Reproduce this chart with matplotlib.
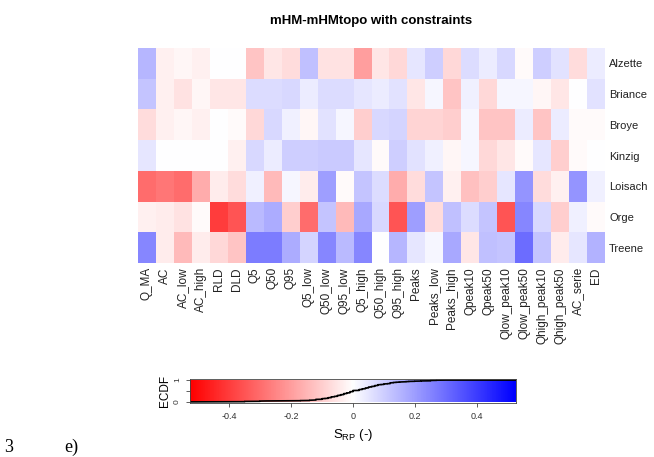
import numpy as np
import matplotlib
matplotlib.use("Agg")
import matplotlib.pyplot as plt
from matplotlib.colors import LinearSegmentedColormap

plt.rcParams['font.family'] = ['Liberation Sans', 'DejaVu Sans']

catchments = ['Alzette', 'Briance', 'Broye', 'Kinzig', 'Loisach', 'Orge', 'Treene']
signatures = ['Q_MA', 'AC', 'AC_low', 'AC_high', 'RLD', 'DLD', 'Q5', 'Q50', 'Q95',
              'Q5_low', 'Q50_low', 'Q95_low', 'Q5_high', 'Q50_high', 'Q95_high',
              'Peaks', 'Peaks_low', 'Peaks_high', 'Qpeak10', 'Qpeak50',
              'Qlow_peak10', 'Qlow_peak50', 'Qhigh_peak10', 'Qhigh_peak50',
              'AC_serie', 'ED']

# S_RP values (rows = catchments, cols = signatures)
alzette = [0.15, -0.03, -0.02, -0.03, 0.00, 0.00, -0.12, -0.05, -0.07, 0.13, -0.06, -0.06, -0.20,
           -0.05, -0.08, 0.05, 0.10, -0.08, 0.07, 0.04, 0.08, -0.01, 0.10, 0.06, -0.07, 0.04]
briance = [0.12, -0.03, -0.06, -0.02, -0.05, -0.05, 0.07, 0.07, 0.08, 0.04, 0.07, 0.07, 0.05,
           0.04, 0.06, -0.05, 0.02, -0.12, 0.03, -0.08, 0.02, 0.02, -0.02, -0.05, 0.00, 0.06]
broye = [-0.07, -0.03, -0.02, -0.03, 0.00, -0.01, -0.08, 0.08, 0.03, -0.02, 0.06, 0.02, -0.10,
         0.08, 0.09, -0.09, -0.09, -0.10, 0.02, -0.12, -0.12, 0.04, -0.12, 0.04, -0.01, -0.01]
kinzig = [0.05, 0.00, 0.00, 0.00, 0.00, -0.03, 0.08, 0.04, 0.10, 0.10, 0.11, 0.11, 0.05,
          -0.01, 0.10, 0.06, 0.03, -0.02, 0.02, -0.08, -0.05, -0.01, 0.05, -0.10, -0.01, 0.00]
loisach = [-0.30, -0.28, -0.30, -0.17, -0.04, -0.07, 0.03, -0.14, 0.02, -0.04, 0.20, -0.01, 0.12,
           0.07, -0.17, -0.07, 0.12, -0.03, -0.13, -0.10, 0.05, 0.22, -0.07, -0.03, 0.22, 0.03]
orge = [-0.03, -0.04, -0.06, -0.01, -0.40, -0.35, 0.14, 0.17, -0.10, -0.30, 0.12, -0.14, 0.18,
        0.08, -0.35, 0.20, -0.07, 0.13, 0.07, 0.12, -0.35, 0.25, 0.08, -0.10, 0.03, -0.01]
treene = [0.25, -0.04, -0.14, -0.04, -0.08, -0.12, 0.27, 0.27, 0.17, 0.09, 0.25, 0.14, 0.25,
          0.00, 0.15, 0.05, 0.02, 0.18, -0.05, 0.13, 0.12, 0.30, 0.12, -0.04, 0.05, 0.16]

values = np.array([alzette, briance, broye, kinzig, loisach, orge, treene])
lim = 0.526

cmap = LinearSegmentedColormap.from_list('rwb', ['#ff0000', '#ffffff', '#0000ff'])

W, H = 654, 457
fig = plt.figure(figsize=(W / 100, H / 100), dpi=100)

def px_axes(x0, y0, x1, y1):
    return fig.add_axes([x0 / W, 1 - y1 / H, (x1 - x0) / W, (y1 - y0) / H])

# heatmap
ax = px_axes(138, 48, 605, 263)
ax.pcolormesh(values, cmap=cmap, vmin=-lim, vmax=lim)
ax.set_xlim(0, len(signatures))
ax.set_ylim(len(catchments), 0)
for s in ax.spines.values():
    s.set_visible(False)
ax.set_xticks(np.arange(len(signatures)) + 0.5)
ax.set_xticklabels(signatures, rotation=90, fontsize=8.5, color='#222222')
ax.set_yticks(np.arange(len(catchments)) + 0.5)
ax.set_yticklabels(catchments, fontsize=8, color='#222222')
ax.yaxis.tick_right()
ax.tick_params(length=0, pad=3)
ax.set_title('mHM-mHMtopo with constraints', fontsize=9.5, fontweight='bold', pad=17)

# colour legend with ECDF
cax = px_axes(190, 379, 516, 403)
grad = np.linspace(-lim, lim, 400)[None, :]
cax.imshow(grad, cmap=cmap, vmin=-lim, vmax=lim, aspect='auto',
           extent=(-lim, lim, 0, 1))
srt = np.sort(values.ravel())
ecdf = np.arange(1, len(srt) + 1) / len(srt)
cax.plot(np.r_[-lim, srt, lim], np.r_[0, ecdf, 1], color='black', lw=1.2)
cax.set_xlim(-lim, lim)
cax.set_ylim(-0.05, 1.05)
cax.set_xticks([-0.4, -0.2, 0, 0.2, 0.4])
cax.set_xticklabels(['-0.4', '-0.2', '0', '0.2', '0.4'], fontsize=6.5, color='#333333')
cax.set_yticks([0, 0.5, 1])
cax.set_yticklabels(['0', '', '1'], fontsize=6, rotation=90, va='center', color='#333333')
cax.tick_params(length=3, width=0.6, color='#444444')
for s in cax.spines.values():
    s.set_linewidth(0.6)
    s.set_color('#444444')
cax.set_ylabel('ECDF', fontsize=8.5, labelpad=2)
cax.set_xlabel('S$_{\\mathregular{RP}}$ (-)', fontsize=9.5, labelpad=4)

# fragment of the surrounding document at the bottom edge
fig.text(4 / W, 1 - 456 / H, '3', fontsize=13, family='Liberation Serif', va='bottom')
fig.text(64 / W, 1 - 456 / H, 'e)', fontsize=13, family='Liberation Serif', va='bottom')

fig.savefig('out.png', dpi=100)
